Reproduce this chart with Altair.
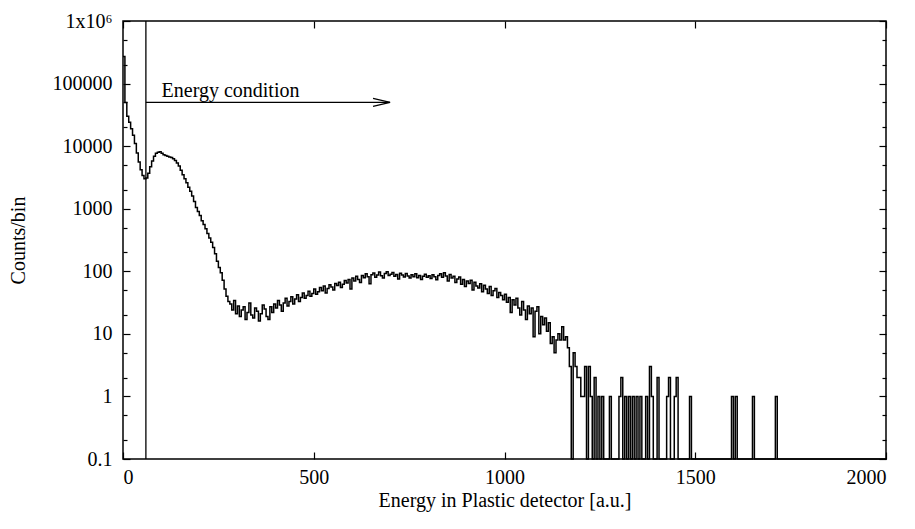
import altair as alt
import pandas as pd

FONT = "Liberation Serif"
BIN = 5

# Counts per 5-unit bin, starting at energy 0
main_counts = [
    270000, 50000, 30000, 24000, 19000, 15000, 11000, 7800, 5600, 4200, 3400, 3000, 3100, 3700, 4700, 5800, 6900, 7700, 8000, 8100,
    7700, 7300, 7100, 6900, 6700, 6600, 6300, 5900, 5400, 4800, 4100, 3500, 3000, 2600, 2200, 1900, 1600, 1300, 1050, 900,
    780, 640, 560, 480, 400, 340, 290, 240, 190, 145, 115, 95, 72, 52, 40, 33, 30, 24, 34, 21,
    28, 19, 24, 27, 17, 22, 31, 20, 18, 26, 23, 16, 21, 29, 25, 19, 17, 27, 22, 30,
    26, 34, 29, 23, 31, 37, 28, 33, 39, 30, 36, 42, 33, 38, 45, 37, 41, 48, 40, 44,
    52, 43, 47, 55, 49, 58, 45, 53, 61, 56, 50, 64, 59, 67, 55, 62, 71, 65, 74, 52,
    78, 70, 83, 74, 66, 86, 79, 91, 82, 63, 88, 94, 80, 87, 97, 85, 78, 92, 98, 86,
    90, 96, 83, 89, 75, 93, 87, 81, 92, 84, 78, 88, 82, 91, 79, 86, 74, 83, 90, 80,
    85, 77, 88, 82, 73, 86, 91, 80, 95, 84, 70, 89, 78, 83, 66, 75, 81, 62, 74, 57,
    70, 64, 72, 50, 67, 58, 54, 63, 47, 60, 52, 44, 57, 41, 49, 53, 38, 46, 41, 35,
    43, 32, 38, 22, 35, 29, 37, 26, 20, 33, 24, 17, 28, 21, 26, 9, 23, 27, 10, 19,
    14, 18, 11, 15, 7, 9, 5, 8, 10, 8, 13, 8, 9, 6, 3, 0,
]

# Sparse tail: bin start energy and counts of the non-empty bins
tail_energy = [1180, 1185, 1190, 1195, 1200, 1205, 1210, 1220, 1225, 1235, 1245, 1255,
               1275, 1300, 1305, 1315, 1325, 1335, 1345, 1355, 1370, 1380, 1385,
               1400, 1425, 1430, 1445, 1450, 1485, 1595, 1605, 1650, 1710]
tail_count = [5, 3, 2, 2, 1, 1, 3, 3, 1, 2, 1, 1,
              1, 1, 2, 1, 1, 1, 1, 1, 1, 3, 1,
              2, 1, 2, 1, 2, 1, 1, 1, 1, 1]

cut_energy = 60
arrow_end = 700
arrow_level = 50000
label_text = "Energy condition"
label_energy = 101
label_level = 60000

x_ticks = [0, 500, 1000, 1500, 2000]
y_ticks = [0.1, 1, 10, 100, 1000, 10000, 100000, 1000000]
y_minor = [0.2, 0.5, 2, 5, 20, 50, 200, 500, 2000, 5000, 20000, 50000, 200000, 500000]

X_MAX = 2000
Y_FLOOR = 0.1

counts = {i * BIN: c for i, c in enumerate(main_counts)}
for e, c in zip(tail_energy, tail_count):
    counts[e] = c
rows = []
for e in range(0, X_MAX, BIN):
    rows.append({"energy": e, "counts": max(counts.get(e, 0), Y_FLOOR)})
rows.append({"energy": X_MAX, "counts": Y_FLOOR})
hist = pd.DataFrame(rows)

xs = alt.Scale(domain=[0, X_MAX], nice=False, zero=False)
ys = alt.Scale(type="log", domain=[Y_FLOOR, 1000000], nice=False, clamp=True)

y_label_expr = ("datum.value < 1 ? '0.1' : (datum.value >= 1000000 ? '1x10\u2076' : "
                "format(datum.value, 'd'))")

line = alt.Chart(hist).mark_line(
    interpolate="step-after", color="black", strokeWidth=1.5
).encode(
    x=alt.X("energy:Q", scale=xs,
            axis=alt.Axis(orient="bottom", values=x_ticks, format="d", offset=-7, tickSize=7,
                          domain=False, labelPadding=8,
                          title="Energy in Plastic detector [a.u.]", titlePadding=3)),
    y=alt.Y("counts:Q", scale=ys,
            axis=alt.Axis(orient="left", values=y_ticks, labelExpr=y_label_expr, offset=-7,
                          tickSize=7, domain=False, labelPadding=11,
                          title="Counts/bin", titleX=-112, titleBaseline="middle")),
)

axis_df = pd.DataFrame({"energy": [0, X_MAX], "counts": [Y_FLOOR, 1000000]})

top_right = alt.Chart(axis_df).mark_point(opacity=0).encode(
    x=alt.X("energy:Q", scale=xs,
            axis=alt.Axis(orient="top", values=x_ticks, labels=False, title="", offset=-7,
                          tickSize=7, domain=False)),
    y=alt.Y("counts:Q", scale=ys,
            axis=alt.Axis(orient="right", values=y_ticks, labels=False, title="", offset=-7,
                          tickSize=7, domain=False)),
)

minor_left = alt.Chart(axis_df).mark_point(opacity=0).encode(
    x=alt.X("energy:Q", scale=xs, axis=None),
    y=alt.Y("counts:Q", scale=ys,
            axis=alt.Axis(orient="left", values=y_minor, labels=False, title="", offset=-4,
                          tickSize=4, domain=False)),
)

minor_right = alt.Chart(axis_df).mark_point(opacity=0).encode(
    x=alt.X("energy:Q", scale=xs, axis=None),
    y=alt.Y("counts:Q", scale=ys,
            axis=alt.Axis(orient="right", values=y_minor, labels=False, title="", offset=-4,
                          tickSize=4, domain=False)),
)

cut_df = pd.DataFrame({"energy": [cut_energy]})
cut_rule = alt.Chart(cut_df).mark_rule(color="black", strokeWidth=1.3).encode(
    x=alt.X("energy:Q", scale=xs, axis=None)
)

arrow_df = pd.DataFrame({"energy": [cut_energy], "energy2": [arrow_end], "counts": [arrow_level]})
arrow_line = alt.Chart(arrow_df).mark_rule(color="black", strokeWidth=1.3).encode(
    x=alt.X("energy:Q", scale=xs, axis=None),
    x2="energy2:Q",
    y=alt.Y("counts:Q", scale=ys, axis=None),
)

head_df = pd.DataFrame({"energy": [arrow_end], "counts": [arrow_level]})
arrow_head = alt.Chart(head_df).mark_point(
    shape="M -1 -0.24 L 0 0 L -1 0.24", filled=False, color="black",
    strokeWidth=1.3, size=1156, opacity=1
).encode(
    x=alt.X("energy:Q", scale=xs, axis=None),
    y=alt.Y("counts:Q", scale=ys, axis=None),
)

label_df = pd.DataFrame({"energy": [label_energy], "counts": [label_level], "text": [label_text]})
label = alt.Chart(label_df).mark_text(
    align="left", baseline="alphabetic", font=FONT, fontSize=20, color="black"
).encode(
    x=alt.X("energy:Q", scale=xs, axis=None),
    y=alt.Y("counts:Q", scale=ys, axis=None),
    text="text:N",
)

chart = alt.layer(
    line, top_right, minor_left, minor_right, cut_rule, arrow_line, arrow_head, label
).resolve_scale(
    x="shared", y="shared"
).resolve_axis(
    x="independent", y="independent"
).properties(
    width=763, height=438,
    padding={"left": 115, "top": 13, "right": 21, "bottom": 62},
    autosize=alt.AutoSizeParams(type="none"),
    background="white",
).configure_view(
    stroke="black", strokeWidth=1.5
).configure_axis(
    grid=False, tickColor="black", tickWidth=1.2, labelColor="black",
    labelFont=FONT, labelFontSize=20, titleFont=FONT, titleFontSize=20,
    titleFontWeight="normal", titleColor="black",
)

chart.save("out.html", embed_options={"renderer": "svg", "actions": False})
